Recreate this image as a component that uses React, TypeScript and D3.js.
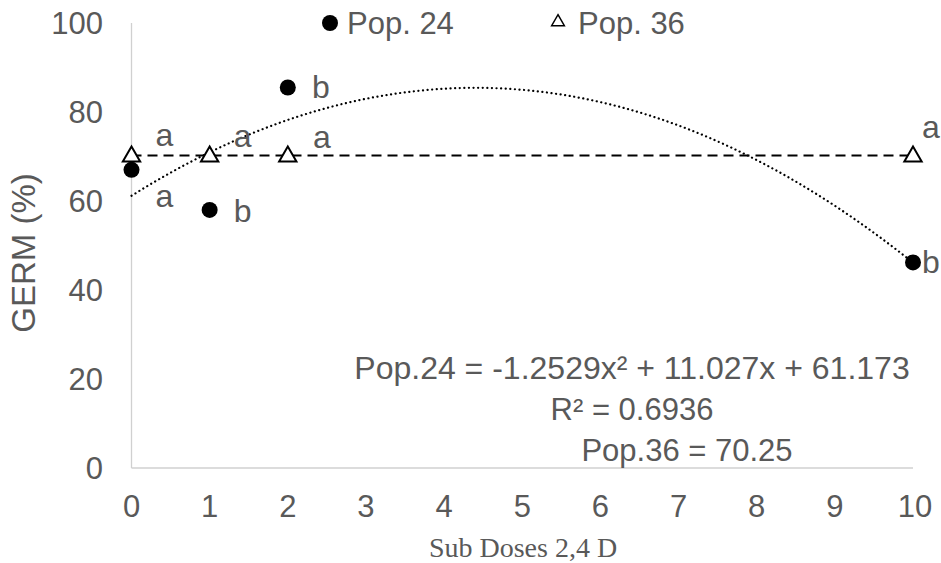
import React, { useEffect, useRef } from 'react';
import * as d3 from 'd3';

const doses = [0, 1, 2, 10];
const pop24 = [67, 58, 85.5, 46.2];
const pop36 = [70, 70, 70, 70];
const pop24Letters = ['a', 'b', 'b', 'b'];
const pop36Letters = ['a', 'a', 'a', 'a'];
const xTicks = [0, 1, 2, 3, 4, 5, 6, 7, 8, 9, 10];
const yTicks = [0, 20, 40, 60, 80, 100];
const fitCoef = [-1.2529, 11.027, 61.173];
const pop36Mean = 70.25;

// letter offsets (px) from each point: [dx, dy]
const pop24Off = [[33, 29], [33, 4], [33, 2], [18, 2]];
const pop36Off = [[33, -19], [33, -18], [34, -17], [18, -27]];

const W = 941;
const H = 563;

const App = () => {
  const ref = useRef(null);

  useEffect(() => {
    if (!ref.current) return;
    d3.select(ref.current).selectAll('*').remove();
    const svg = d3.select(ref.current)
      .append('svg')
      .attr('width', W)
      .attr('height', H)
      .style('position', 'absolute')
      .style('left', 0)
      .style('top', 0)
      .style('font-family', 'Liberation Sans, Arial, sans-serif');

    const x = d3.scaleLinear().domain([0, 10]).range([131.5, 913]);
    const y = d3.scaleLinear().domain([0, 100]).range([468, 23]);
    const grey = '#595959';

    // axis lines
    svg.append('line')
      .attr('x1', x(0)).attr('x2', x(0))
      .attr('y1', y(0)).attr('y2', y(100))
      .attr('stroke', '#d0d0d0').attr('stroke-width', 1.3);
    svg.append('line')
      .attr('x1', x(0)).attr('x2', x(10))
      .attr('y1', y(0)).attr('y2', y(0))
      .attr('stroke', '#d0d0d0').attr('stroke-width', 1.3);

    svg.selectAll('.xt')
      .data(xTicks)
      .join('text')
      .attr('class', 'xt')
      .attr('x', d => x(d) + (d === 10 ? 2 : 0))
      .attr('y', y(0) + 49)
      .attr('text-anchor', 'middle')
      .attr('fill', grey)
      .style('font-size', '31px')
      .text(d => d);

    svg.selectAll('.yt')
      .data(yTicks)
      .join('text')
      .attr('class', 'yt')
      .attr('x', 103)
      .attr('y', d => y(d) + 11)
      .attr('text-anchor', 'end')
      .attr('fill', grey)
      .style('font-size', '31px')
      .text(d => d);

    svg.append('text')
      .attr('transform', `translate(35, 253) rotate(-90)`)
      .attr('text-anchor', 'middle')
      .attr('fill', grey)
      .style('font-size', '33px')
      .text('GERM (%)');

    svg.append('text')
      .attr('x', 523)
      .attr('y', 557)
      .attr('text-anchor', 'middle')
      .attr('fill', grey)
      .style('font-family', 'Liberation Serif, Times New Roman, serif')
      .style('font-size', '28px')
      .text('Sub Doses 2,4 D');

    // Pop.36 mean line
    svg.append('line')
      .attr('x1', x(0)).attr('x2', x(10))
      .attr('y1', y(pop36Mean)).attr('y2', y(pop36Mean))
      .attr('stroke', 'black')
      .attr('stroke-width', 2)
      .attr('stroke-dasharray', '10,6');

    // Pop.24 quadratic fit
    const fx = d3.range(0, 10.01, 0.1);
    const line = d3.line<number>()
      .x(d => x(d))
      .y(d => y(fitCoef[0] * d * d + fitCoef[1] * d + fitCoef[2]));
    svg.append('path')
      .datum(fx)
      .attr('d', line)
      .attr('fill', 'none')
      .attr('stroke', 'black')
      .attr('stroke-width', 2.2)
      .attr('stroke-linecap', 'round')
      .attr('stroke-dasharray', '0.1,4.5');

    // points
    svg.selectAll('.p24')
      .data(pop24)
      .join('circle')
      .attr('class', 'p24')
      .attr('cx', (d, i) => x(doses[i]))
      .attr('cy', d => y(d))
      .attr('r', 8)
      .attr('fill', 'black');

    const tri = d3.symbol().type(d3.symbolTriangle).size(130);
    svg.selectAll('.p36')
      .data(pop36)
      .join('path')
      .attr('class', 'p36')
      .attr('d', tri)
      .attr('transform', (d, i) => `translate(${x(doses[i])},${y(d)})`)
      .attr('fill', 'white')
      .attr('stroke', 'black')
      .attr('stroke-width', 2);

    svg.selectAll('.l24')
      .data(pop24)
      .join('text')
      .attr('class', 'l24')
      .attr('x', (d, i) => x(doses[i]) + pop24Off[i][0])
      .attr('y', (d, i) => y(d) + pop24Off[i][1] + 8.5)
      .attr('text-anchor', 'middle')
      .attr('fill', grey)
      .style('font-size', '32px')
      .text((d, i) => pop24Letters[i]);

    svg.selectAll('.l36')
      .data(pop36)
      .join('text')
      .attr('class', 'l36')
      .attr('x', (d, i) => x(doses[i]) + pop36Off[i][0])
      .attr('y', (d, i) => y(d) + pop36Off[i][1] + 8.5)
      .attr('text-anchor', 'middle')
      .attr('fill', grey)
      .style('font-size', '32px')
      .text((d, i) => pop36Letters[i]);

    // equations
    const eq = svg.append('g').attr('fill', grey).style('font-size', '31px');
    eq.append('text').attr('x', 632).attr('y', 379).attr('text-anchor', 'middle')
      .style('font-size', '32px')
      .text('Pop.24 = -1.2529x² + 11.027x + 61.173');
    eq.append('text').attr('x', 632).attr('y', 420).attr('text-anchor', 'middle').text('R² = 0.6936');
    eq.append('text').attr('x', 687).attr('y', 461).attr('text-anchor', 'middle').text('Pop.36 = 70.25');

    // legend
    const lg = svg.append('g').attr('fill', grey).style('font-size', '31px');
    lg.append('circle').attr('cx', 330).attr('cy', 23).attr('r', 8).attr('fill', 'black');
    lg.append('text').attr('x', 347).attr('y', 34).text('Pop. 24');
    lg.append('path')
      .attr('d', d3.symbol().type(d3.symbolTriangle).size(70))
      .attr('transform', 'translate(558,22)')
      .attr('fill', 'white').attr('stroke', 'black').attr('stroke-width', 1.5);
    lg.append('text').attr('x', 578).attr('y', 34).text('Pop. 36');
  }, []);

  return <div ref={ref}></div>;
};

export default App;
